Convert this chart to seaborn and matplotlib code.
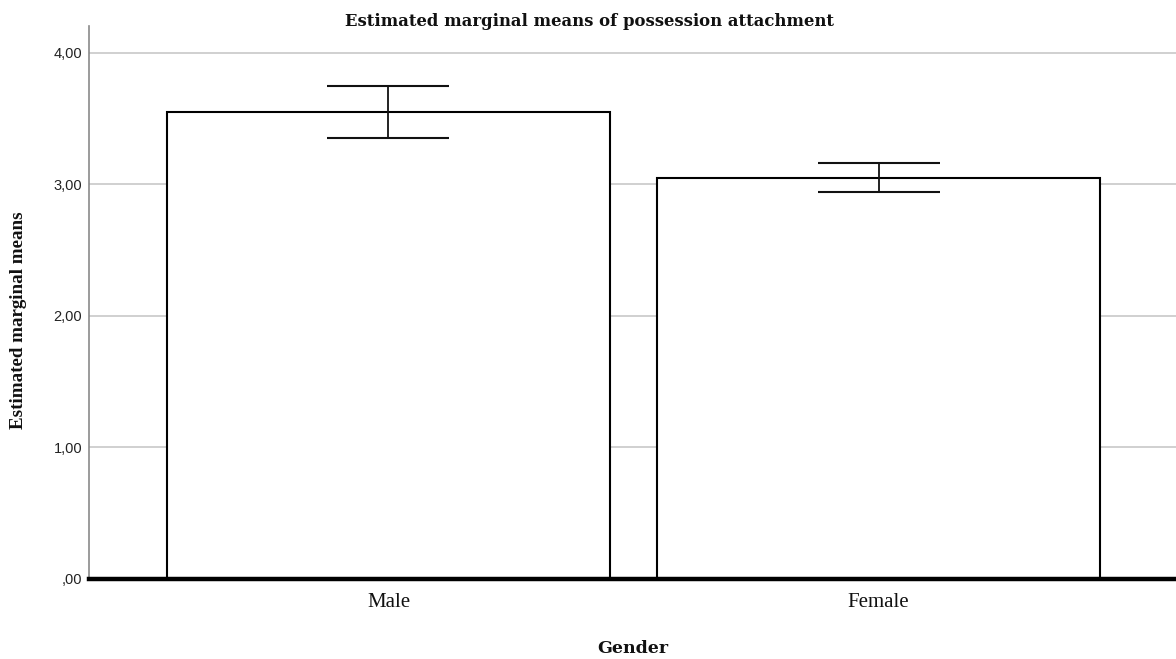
import matplotlib
matplotlib.use("Agg")
import matplotlib.pyplot as plt
import seaborn as sns
import pandas as pd
from matplotlib.ticker import FuncFormatter

genders = ["Male", "Female"]
means = [3.546, 3.045]
ci_low = [3.353, 2.938]
ci_high = [3.746, 3.159]
yticks = [0, 1, 2, 3, 4]

sns.set_theme(style="white")
plt.rcParams['font.family'] = ['Liberation Serif', 'DejaVu Serif']

df = pd.DataFrame({"Gender": genders, "mean": means})

fig = plt.figure(figsize=(11.76, 6.59), dpi=100)
ax = fig.add_axes([89/1176, 80/659, 1 - 89/1176, 552.7/659])

sns.barplot(data=df, x="Gender", y="mean", order=genders, color="white",
            edgecolor="black", linewidth=1.5, width=0.904, errorbar=None, ax=ax)
for p in ax.patches:
    p.set_facecolor("white")

yerr = [[m - l for m, l in zip(means, ci_low)], [h - m for m, h in zip(means, ci_high)]]
ax.errorbar(x=range(len(genders)), y=means, yerr=yerr, fmt="none", ecolor="#111111",
            elinewidth=1.3, capsize=44, capthick=1.5, zorder=5)

ax.set_ylim(0, 4.2)
ax.set_xlim(-0.611, 1.607)
ax.set_yticks(yticks)


def fmt(v, p):
    s = ("%.2f" % v).replace(".", ",")
    return s[1:] if s.startswith("0") else s


ax.yaxis.set_major_formatter(FuncFormatter(fmt))
ax.grid(axis="y", color="#c8c8c8", linewidth=1.2)
ax.set_axisbelow(True)

for s in ["top", "right"]:
    ax.spines[s].set_visible(False)
ax.spines["left"].set_color("#8a8a8a")
ax.spines["left"].set_linewidth(1.2)
ax.spines["bottom"].set_color("black")
ax.spines["bottom"].set_linewidth(3.2)
ax.spines["bottom"].set_zorder(6)

ax.tick_params(axis="both", length=0)
ax.tick_params(axis="y", pad=5)
ax.tick_params(axis="x", pad=10)
for t in ax.get_yticklabels():
    t.set_fontfamily(["Liberation Sans", "DejaVu Sans"])
    t.set_fontsize(10.5)
    t.set_color("#222222")
for t in ax.get_xticklabels():
    t.set_fontfamily(["Liberation Serif", "DejaVu Serif"])
    t.set_fontsize(15)
    t.set_color("#111111")

ax.set_xlabel("Gender", fontsize=12.5, fontweight="bold", labelpad=20, color="#111111",
              family=["DejaVu Serif"])
ax.set_ylabel("Estimated marginal means", fontsize=13.7, fontweight="bold", color="#111111")
ax.yaxis.set_label_coords((27 - 89) / 1087, 0.4686)
fig.text(590/1176, 1 - 22/659, "Estimated marginal means of possession attachment",
         ha="center", va="center", fontsize=11.9, fontweight="bold", color="#111111",
         family=["DejaVu Serif"])

fig.savefig("out.png", dpi=100, facecolor="white")
